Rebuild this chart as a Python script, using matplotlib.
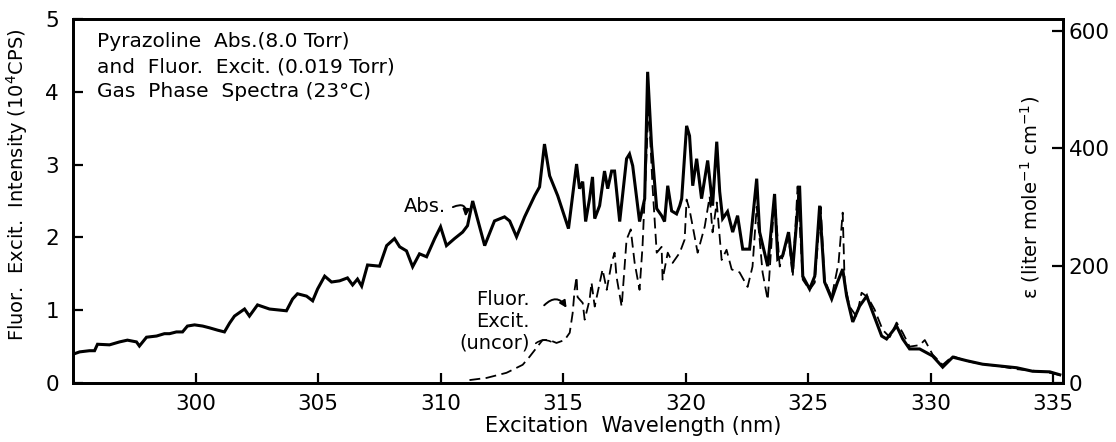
import matplotlib
matplotlib.use("Agg")
import matplotlib.pyplot as plt

# Absorption spectrum of pyrazoline vapour (8.0 Torr): wavelength (nm), epsilon
abs_wl = [295.0, 295.27, 295.67, 295.88, 296.0, 296.49, 296.9, 297.22, 297.59, 297.71,
          298.0, 298.41, 298.73, 298.94, 299.22, 299.47, 299.67, 299.96, 300.29, 300.57,
          300.9, 301.18, 301.39, 301.59, 302.0, 302.2, 302.53, 303.02, 303.71, 303.96,
          304.16, 304.53, 304.78, 304.98, 305.27, 305.55, 305.88, 306.2, 306.41, 306.61,
          306.78, 307.02, 307.51, 307.8, 308.12, 308.33, 308.61, 308.86, 309.14, 309.43,
          309.76, 310.0, 310.24, 310.57, 310.9, 311.1, 311.31, 311.8, 312.2, 312.61,
          312.82, 313.1, 313.43, 313.84, 314.04, 314.24, 314.45, 314.78, 315.22, 315.55,
          315.67, 315.8, 315.92, 316.08, 316.2, 316.29, 316.49, 316.69, 316.82, 316.98,
          317.1, 317.31, 317.59, 317.71, 317.84, 318.12, 318.33, 318.45, 318.61, 318.82,
          319.02, 319.14, 319.27, 319.43, 319.63, 319.76, 319.84, 320.04, 320.16, 320.29,
          320.45, 320.65, 320.9, 321.1, 321.27, 321.39, 321.51, 321.71, 321.92, 322.12,
          322.33, 322.61, 322.9, 323.02, 323.35, 323.63, 323.76, 323.96, 324.2, 324.37,
          324.65, 324.78, 325.06, 325.27, 325.47, 325.67, 325.96, 326.2, 326.41, 326.57,
          326.82, 327.1, 327.39, 327.63, 328.0, 328.2, 328.61, 328.86, 329.14, 329.55,
          330.08, 330.49, 330.9, 331.47, 332.12, 332.82, 333.51, 334.16, 334.86, 335.27]
abs_eps = [49, 53, 55, 55, 66, 65, 70, 73, 70, 63,
           78, 80, 84, 84, 87, 87, 97, 99, 97, 94,
           90, 87, 102, 114, 126, 114, 133, 126, 123, 143,
           152, 148, 140, 160, 182, 172, 174, 179, 167, 177,
           165, 201, 199, 234, 246, 232, 225, 198, 220, 215,
           246, 266, 234, 246, 257, 268, 310, 234, 276, 283,
           276, 249, 283, 319, 334, 407, 353, 319, 263, 373,
           331, 343, 275, 314, 351, 280, 302, 361, 331, 361,
           361, 275, 382, 390, 370, 275, 314, 530, 404, 297,
           285, 275, 336, 293, 288, 302, 314, 438, 421, 336,
           382, 314, 379, 302, 411, 326, 280, 292, 257, 285,
           228, 228, 348, 257, 199, 322, 211, 217, 257, 194,
           336, 182, 160, 182, 302, 172, 143, 172, 194, 148,
           104, 131, 148, 121, 80, 75, 97, 75, 58, 58,
           46, 27, 44, 38, 32, 29, 26, 20, 19, 14]

# Fluorescence excitation spectrum (0.019 Torr, uncorrected): wavelength (nm), 10^4 CPS
fl_wl = [311.18, 311.88, 312.69, 313.35, 313.63, 314.16, 314.45, 314.73, 315.06, 315.27,
         315.39, 315.47, 315.55, 315.59, 315.8, 315.88, 316.08, 316.16, 316.29, 316.61,
         316.78, 316.98, 317.1, 317.18, 317.39, 317.59, 317.76, 317.92, 318.12, 318.24,
         318.41, 318.49, 318.57, 318.65, 318.82, 319.02, 319.06, 319.27, 319.47, 319.76,
         319.96, 320.04, 320.16, 320.29, 320.49, 320.78, 320.98, 321.1, 321.27, 321.47,
         321.67, 321.88, 322.2, 322.53, 322.73, 322.9, 323.14, 323.35, 323.63, 323.84,
         324.2, 324.37, 324.57, 324.78, 325.06, 325.27, 325.51, 325.67, 325.96, 326.24,
         326.41, 326.49, 326.69, 326.98, 327.18, 327.43, 327.71, 328.04, 328.33, 328.61,
         328.86, 329.14, 329.55, 329.76, 330.08, 330.49, 330.9, 331.47, 332.12, 332.82,
         333.51, 334.16, 334.86, 335.27]
fl_int = [0.04, 0.07, 0.14, 0.25, 0.36, 0.59, 0.59, 0.55, 0.59, 0.69,
          0.96, 1.28, 1.46, 1.18, 1.10, 0.87, 1.14, 1.38, 1.05, 1.56,
          1.28, 1.65, 1.79, 1.46, 1.05, 1.97, 2.11, 1.65, 1.28, 1.87,
          3.17, 3.86, 3.25, 2.70, 1.79, 1.87, 1.42, 1.79, 1.65, 1.79,
          1.97, 2.52, 2.38, 2.15, 1.79, 2.15, 2.56, 2.07, 2.48, 1.69,
          1.83, 1.56, 1.52, 1.32, 1.60, 2.42, 1.52, 1.14, 2.56, 1.60,
          2.01, 1.46, 2.70, 1.42, 1.28, 1.38, 2.42, 1.42, 1.18, 1.65,
          2.34, 1.38, 1.05, 0.91, 1.24, 1.18, 1.01, 0.73, 0.63, 0.83,
          0.69, 0.50, 0.52, 0.59, 0.39, 0.25, 0.37, 0.30, 0.26, 0.23,
          0.19, 0.17, 0.14, 0.11]

x_ticks = [300, 305, 310, 315, 320, 325, 330, 335]
left_ticks = [0, 1, 2, 3, 4, 5]
right_ticks = [0, 200, 400, 600]

plt.rcParams["font.family"] = ["DejaVu Sans"]

fig = plt.figure(figsize=(11.16, 4.42), dpi=100)
ax = fig.add_axes([73 / 1116, 1 - 383 / 442, 990 / 1116, 364 / 442])
ax2 = ax.twinx()

ax.set_xlim(295.0, 335.4)
ax.set_ylim(0, 5.0)
ax2.set_ylim(0, 620)

ax2.plot(abs_wl, abs_eps, color="black", lw=2.2, solid_joinstyle="miter")
ax.plot(fl_wl, fl_int, color="black", lw=1.3, dashes=(6, 3))

for a in (ax, ax2):
    for s in a.spines.values():
        s.set_linewidth(2.0)

ax.set_xticks(x_ticks)
ax.set_yticks(left_ticks)
ax2.set_yticks(right_ticks)
ax.tick_params(axis="both", direction="in", length=7, width=1.6, labelsize=15.5, pad=8)
ax.tick_params(axis="y", pad=10)
ax2.tick_params(axis="y", direction="in", length=8, width=1.6, labelsize=15.5, pad=4)

ax.set_xlabel("Excitation  Wavelength (nm)", fontsize=15)
ax.xaxis.set_label_coords(0.566, -0.09)
ax.set_ylabel("Fluor.  Excit.  Intensity (10$^4$CPS)", fontsize=14)
ax.yaxis.set_label_coords(-0.043, 0.545)
ax2.set_ylabel("\u03b5 (liter mole$^{-1}$ cm$^{-1}$)", fontsize=14)
ax2.yaxis.set_label_position("right")
ax2.yaxis.set_label_coords(0.955, 0.51)
ax2.yaxis.label.set_rotation(90)

title_lines = ["Pyrazoline  Abs.(8.0 Torr)",
               "and  Fluor.  Excit. (0.019 Torr)",
               "Gas  Phase  Spectra (23\u00b0C)"]
for txt, yb in zip(title_lines, [0.923, 0.852, 0.786]):
    ax.text(0.024, yb, txt, transform=ax.transAxes, fontsize=14.5,
            ha="left", va="baseline")

# curve labels with hooked pointers
ax.text(309.35, 2.42, "Abs.", fontsize=14, ha="center", va="center")
ax.annotate("", xy=(311.0, 2.25), xytext=(310.4, 2.40),
            arrowprops=dict(arrowstyle="-|>", color="black", lw=1.4,
                            connectionstyle="arc3,rad=-1.0", mutation_scale=10))

ax.text(313.65, 0.85, "Fluor.\nExcit.\n(uncor)", fontsize=14, ha="right",
        va="center", multialignment="right", linespacing=1.2)
ax.annotate("", xy=(315.2, 1.0), xytext=(314.15, 1.04),
            arrowprops=dict(arrowstyle="-|>", color="black", lw=1.4,
                            connectionstyle="arc3,rad=-0.7", mutation_scale=10))
ax.annotate("", xy=(314.6, 0.55), xytext=(313.8, 0.52),
            arrowprops=dict(arrowstyle="-", color="black", lw=1.2,
                            connectionstyle="arc3,rad=-0.4"))

fig.savefig("out.png", dpi=100)
